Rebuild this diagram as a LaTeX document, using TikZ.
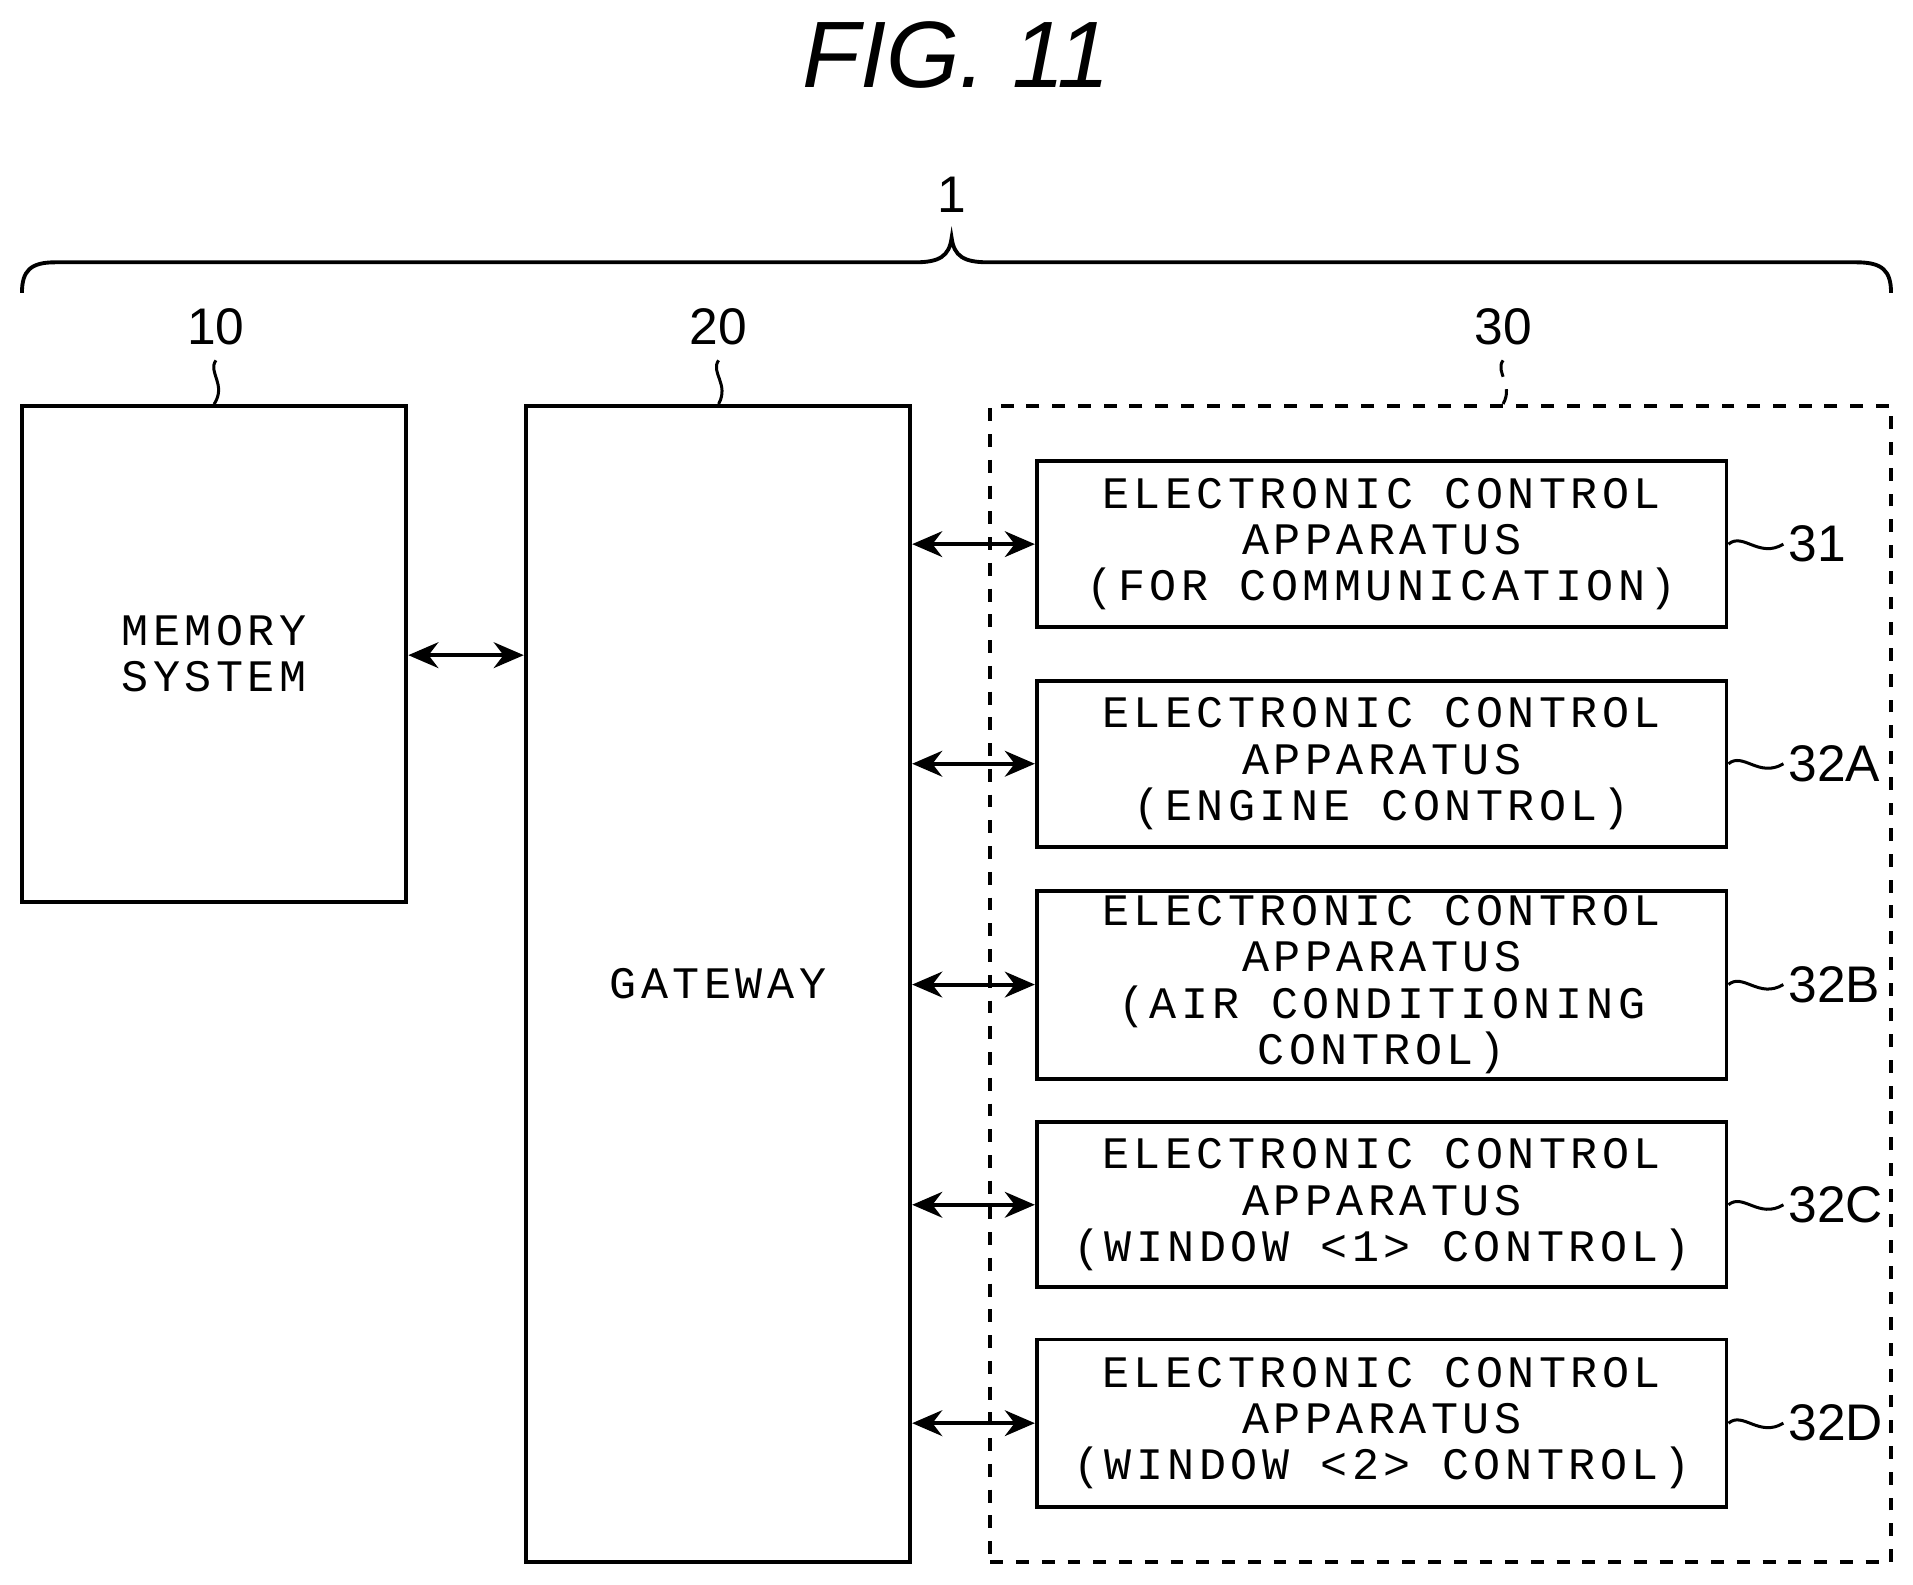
\documentclass[tikz,border=0pt]{standalone}
\usepackage{fontspec}
\setmainfont{Liberation Sans}
\newfontfamily\boxfont[LetterSpace=10]{Liberation Mono}
\usetikzlibrary{arrows.meta}
\begin{document}
\begin{tikzpicture}[x=0.01cm,y=-0.01cm,
  blk/.style={draw,line width=0.9pt,inner sep=0pt},
  txt/.style={font=\boxfont\fontsize{10.5}{10.8}\selectfont,align=center},
  lbl/.style={font=\fontsize{12}{12}\selectfont},
  arr/.style={{Stealth[length=7pt,width=6pt]}-{Stealth[length=7pt,width=6pt]},line width=0.9pt},
  sq/.style={line width=0.7pt}]
\useasboundingbox (0,0) rectangle (1568,1299);
\node[font=\itshape\fontsize{22}{22}\selectfont] (title) at (784,45) {FIG. 11};
% brace
\draw[line width=0.9pt] (18,240) .. controls (18,222) and (25,215) .. (45,215) -- (750,215)
  .. controls (770,215) and (778,210) .. (780,195) .. controls (782,210) and (790,215) .. (810,215)
  -- (1522,215) .. controls (1543,215) and (1550,222) .. (1550,240);
\node[lbl] (l1) at (780,160) {1};
% boxes
\node[blk,minimum width=3.15cm,minimum height=4.06cm] (mem) at (175.5,536) {};
\node[txt] at (mem) {MEMORY\\SYSTEM};
\node[blk,minimum width=3.15cm,minimum height=9.47cm] (gw) at (588.5,806.5) {};
\node[txt] at (gw) {GATEWAY};
\node[draw,dashed,line width=0.9pt,minimum width=7.38cm,minimum height=9.47cm,inner sep=0pt] (grp) at (1181,806.5) {};
\foreach \n/\y/\h/\t in {
  e31/446/1.36/{ELECTRONIC CONTROL\\APPARATUS\\(FOR COMMUNICATION)},
  e32A/626/1.36/{ELECTRONIC CONTROL\\APPARATUS\\(ENGINE CONTROL)},
  e32B/807/1.54/{ELECTRONIC CONTROL\\APPARATUS\\(AIR CONDITIONING\\CONTROL)},
  e32C/987.5/1.35/{ELECTRONIC CONTROL\\APPARATUS\\(WINDOW <1> CONTROL)},
  e32D/1166.5/1.37/{ELECTRONIC CONTROL\\APPARATUS\\(WINDOW <2> CONTROL)}}{
  \node[blk,minimum width=5.65cm,minimum height=\h cm] (\n) at (1132.5,\y) {};
  \node[txt] at (\n) {\t};
}
% arrows
\draw[arr] (mem.east |- 0,537) -- (gw.west |- 0,537);
\foreach \n in {e31,e32A,e32B,e32C,e32D}{
  \draw[arr] (gw.east |- \n.west) -- (\n.west);
}
% top labels
\node[lbl] (l10) at (177,268) {10};
\node[lbl] (l20) at (589,268) {20};
\node[lbl] (l30) at (1232,268) {30};
\draw[sq] (l10.south) .. controls (170,305) and (186,315) .. (mem.north);
\draw[sq] (l20.south) .. controls (582,305) and (598,315) .. (gw.north -| 589,0);
\draw[sq,dash pattern=on 4pt off 3pt] (l30.south) .. controls (1225,305) and (1241,315) .. (grp.north -| 1232,0);
% side labels
\foreach \n/\t in {e31/31,e32A/32A,e32B/32B,e32C/32C,e32D/32D}{
  \node[lbl,anchor=west,inner sep=1pt] (L\n) at ([xshift=0.45cm]\n.east) {\t};
  \draw[sq] (\n.east) .. controls ([xshift=0.12cm,yshift=0.1cm]\n.east) and ([xshift=0.25cm,yshift=-0.12cm]\n.east) .. (L\n.west);
}
\end{tikzpicture}
\end{document}
